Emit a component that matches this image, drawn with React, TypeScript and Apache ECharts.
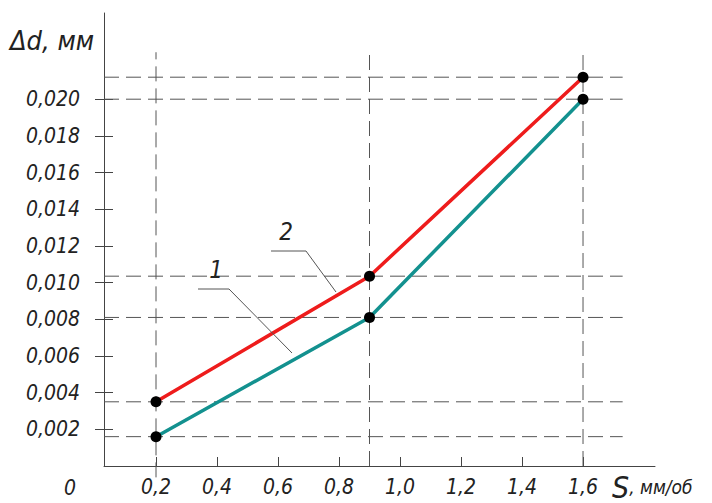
import React, { useEffect, useRef } from "react";
import * as echarts from "echarts";

const xValues = [0.2, 0.9, 1.6];
const curve1 = [0.0016, 0.0081, 0.02];
const curve2 = [0.0035, 0.01035, 0.0212];
const xTicks = [0.2, 0.4, 0.6, 0.8, 1.0, 1.2, 1.4, 1.6];
const yTicks = [0.002, 0.004, 0.006, 0.008, 0.01, 0.012, 0.014, 0.016, 0.018, 0.02];

const X_MIN = 0.0295;
const X_MAX = 1.836;
const Y_MIN = 0;
const Y_MAX = 0.0247;

const FONT = '"DejaVu Sans Condensed", "Liberation Sans Narrow", "DejaVu Sans", sans-serif';
const GUIDE = "#555";

export default function App() {
  const ref = useRef<HTMLDivElement>(null);
  useEffect(() => {
    if (!ref.current) return;
    const chart = echarts.init(ref.current, null, { renderer: "svg" });

    const guideSeries: any[] = [];
    const hEnd = 1.73;
    [...curve1, ...curve2].forEach((y) => {
      guideSeries.push({
        type: "line",
        data: [[X_MIN, y], [hEnd, y]],
        symbol: "none",
        clip: false,
        silent: true,
        z: 1,
        lineStyle: { color: GUIDE, width: 1, type: [15, 7] },
      });
    });
    xValues.forEach((x, i) => {
      guideSeries.push({
        type: "line",
        data: [[x, i === 0 ? -0.00062 : 0], [x, 0.02256]],
        symbol: "none",
        clip: false,
        silent: true,
        z: 1,
        lineStyle: { color: GUIDE, width: 1, type: [15, 7] },
      });
    });

    const labelFmt = (v: number) => v.toFixed(3).replace(".", ",");

    chart.setOption({
      animation: false,
      backgroundColor: "#ffffff",
      grid: { left: 104, right: 57, top: 13, bottom: 37, containLabel: false },
      xAxis: {
        type: "value",
        min: X_MIN,
        max: X_MAX,
        axisLine: { show: true, lineStyle: { color: "#444", width: 1 } },
        axisTick: { show: true, inside: true, length: 9, customValues: xTicks, lineStyle: { color: "#444" } },
        axisLabel: {
          show: true,
          customValues: xTicks,
          formatter: (v: number) => v.toFixed(1).replace(".", ","),
          margin: 10,
          fontFamily: FONT,
          fontStyle: "italic",
          fontSize: 21,
          color: "#222",
        },
        splitLine: { show: false },
      },
      yAxis: [
        {
          type: "value",
          min: Y_MIN,
          max: Y_MAX,
          axisLine: { show: true, lineStyle: { color: "#444", width: 1 } },
          axisTick: { show: true, inside: false, length: 9, customValues: yTicks, lineStyle: { color: "#444" } },
          axisLabel: {
            show: true,
            customValues: yTicks,
            formatter: labelFmt,
            margin: 24,
            fontFamily: FONT,
            fontStyle: "italic",
            fontSize: 21,
            color: "#222",
          },
          splitLine: { show: false },
        },
        {
          type: "value",
          position: "left",
          min: Y_MIN,
          max: Y_MAX,
          axisLine: { show: false },
          axisTick: { show: true, inside: true, length: 9, customValues: yTicks, lineStyle: { color: "#444" } },
          axisLabel: { show: false },
          splitLine: { show: false },
        },
      ],
      series: [
        ...guideSeries,
        {
          name: "1",
          type: "line",
          data: xValues.map((x, i) => [x, curve1[i]]),
          symbol: "circle",
          symbolSize: 11,
          itemStyle: { color: "#000" },
          lineStyle: { color: "#13918f", width: 3.5 },
          z: 5,
        },
        {
          name: "2",
          type: "line",
          data: xValues.map((x, i) => [x, curve2[i]]),
          symbol: "circle",
          symbolSize: 11,
          itemStyle: { color: "#000" },
          lineStyle: { color: "#ee1c1c", width: 3.5 },
          z: 5,
        },
      ],
      graphic: [
        {
          type: "polyline",
          shape: { points: [[271, 251], [306, 251], [336, 292]] },
          style: { stroke: "#555", lineWidth: 1, fill: null },
          z: 10,
        },
        {
          type: "polyline",
          shape: { points: [[198, 289], [229, 289], [292, 353]] },
          style: { stroke: "#555", lineWidth: 1, fill: null },
          z: 10,
        },
        {
          type: "text",
          x: 286,
          y: 232,
          style: { text: "2", fontFamily: FONT, fontStyle: "italic", fontSize: 24, fill: "#222", align: "center", verticalAlign: "middle" },
          z: 10,
        },
        {
          type: "text",
          x: 216,
          y: 270,
          style: { text: "1", fontFamily: FONT, fontStyle: "italic", fontSize: 24, fill: "#222", align: "center", verticalAlign: "middle" },
          z: 10,
        },
        {
          type: "text",
          x: 70,
          y: 488,
          style: { text: "0", fontFamily: FONT, fontStyle: "italic", fontSize: 21, fill: "#222", align: "center", verticalAlign: "middle" },
          z: 10,
        },
        {
          type: "text",
          x: 10,
          y: 40,
          style: { text: "Δd, мм", fontFamily: FONT, fontStyle: "italic", fontSize: 27, fill: "#222", align: "left", verticalAlign: "middle" },
          z: 10,
        },
        {
          type: "text",
          x: 612,
          y: 487,
          style: {
            text: "{s|S}{u|, мм/об}",
            fontFamily: FONT,
            fontStyle: "italic",
            fill: "#222",
            align: "left",
            verticalAlign: "middle",
            rich: {
              s: { fontFamily: FONT, fontStyle: "italic", fontSize: 30, fill: "#222" },
              u: { fontFamily: FONT, fontStyle: "italic", fontSize: 19, fill: "#222" },
            },
          },
          z: 10,
        },
      ],
    });
    return () => chart.dispose();
  }, []);
  return <div ref={ref} style={{ width: 712, height: 503, position: "absolute", left: 0, top: 0 }} />;
}
